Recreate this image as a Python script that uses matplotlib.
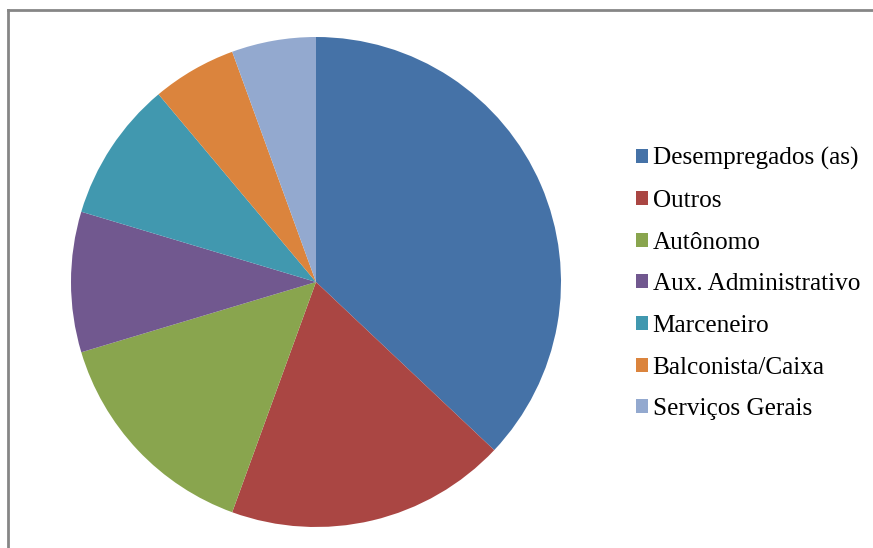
import matplotlib
matplotlib.use("Agg")
import matplotlib.pyplot as plt
from matplotlib.lines import Line2D

labels = ["Desempregados (as)", "Outros", "Autônomo", "Aux. Administrativo",
          "Marceneiro", "Balconista/Caixa", "Serviços Gerais"]
values = [20, 10, 8, 5, 5, 3, 3]
colors = ["#4572A7", "#AA4643", "#89A54E", "#71588F", "#4198AF", "#DB843D", "#93A9CF"]

W, H = 873, 548
fig = plt.figure(figsize=(W / 100, H / 100), dpi=100)
plt.rcParams['font.family'] = ['Liberation Serif', 'DejaVu Serif']

cx, cy, r = 316, 282, 245
ax = fig.add_axes([(cx - r) / W, (H - cy - r) / H, 2 * r / W, 2 * r / H])
wedges, _ = ax.pie(values, colors=colors, startangle=90, counterclock=False,
                   radius=1, wedgeprops=dict(linewidth=0))
ax.set_xlim(-1, 1)
ax.set_ylim(-1, 1)
ax.set_aspect('auto')
ax.axis('off')

# frame lines (top and left)
fig.add_artist(Line2D([7.5 / W, 1], [1 - 9.5 / H, 1 - 9.5 / H], transform=fig.transFigure,
                      color="#868686", linewidth=2))
fig.add_artist(Line2D([7.5 / W, 7.5 / W], [0, 1 - 9.5 / H], transform=fig.transFigure,
                      color="#868686", linewidth=2))

leg = fig.legend(wedges, labels, loc='upper left',
                 bbox_to_anchor=(636 / W, 1 - 147 / H),
                 frameon=False, fontsize=18.2,
                 handlelength=0.48, handleheight=0.48, handletextpad=0.18,
                 labelspacing=0.78, borderpad=0, borderaxespad=0)

fig.savefig("out.png", dpi=100)
